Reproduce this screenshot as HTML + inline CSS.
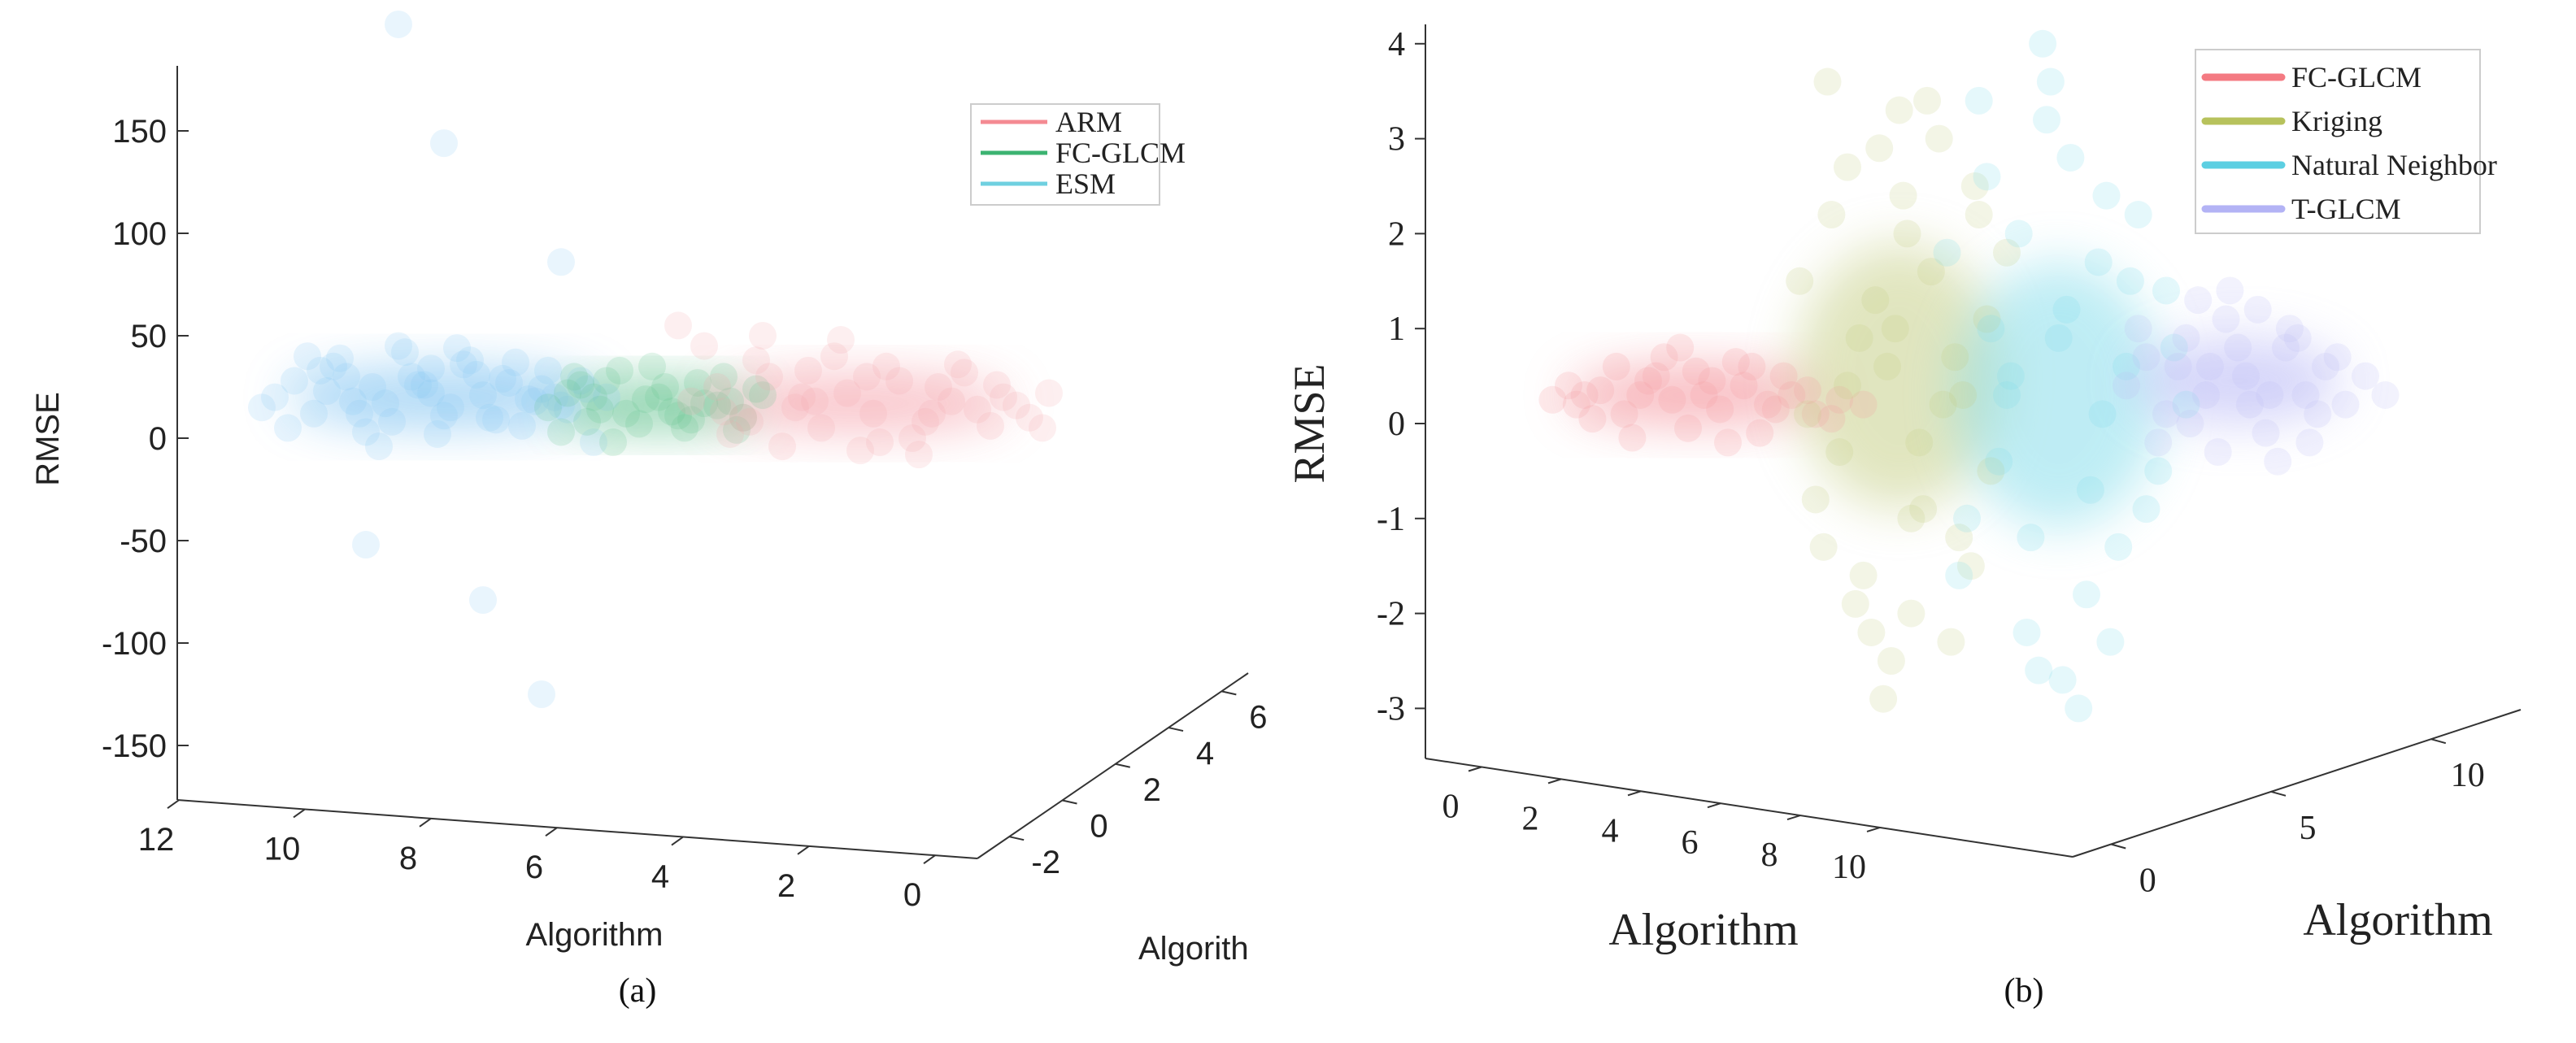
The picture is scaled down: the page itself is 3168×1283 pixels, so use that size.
<!DOCTYPE html>
<html><head><meta charset="utf-8"><style>
html,body{margin:0;padding:0;background:#fff;}
svg{display:block;}
.sans{font-family:"Liberation Sans",Arial,sans-serif;}
.serif{font-family:"Liberation Serif","Times New Roman",serif;}
</style></head><body>
<svg id="fig" width="3168" height="1283" viewBox="0 0 3168 1283" xmlns="http://www.w3.org/2000/svg">
<defs>
<filter id="blur" x="-60%" y="-60%" width="220%" height="220%"><feGaussianBlur stdDeviation="30"/></filter>
</defs>
<g id="panelA"></g>
<g id="panelB"></g>
</svg>
<script>
// ---------- Panel (a) data ----------
const aSeries = ['ESM','FC-GLCM','ARM'];
const aPointColor = ['#86c6f2','#5cc08a','#f6a5ae'];
const aCoreX = [7.8, 4.5, 1.4];
const aCoreW = [2.4, 1.5, 2.3];
const aCoreY = [20, 16, 17];
const aCoreH = [14, 11, 13];
const esmX = [10.4,10.1,9.8,9.5,9.2,8.9,8.6,8.3,8.0,7.7,7.4,7.1,6.8,6.5,6.2,5.9,5.6,5.3,10.2,9.9,9.6,9.3,9.0,8.7,8.4,8.1,7.8,7.5,7.2,6.9,6.6,6.3,6.0,5.7,9.7,9.1,8.5,7.9,7.3,6.7,6.1,10.6,8.8,8.2,7.6,7.0,9.4,8.0,6.4,5.5,8.5,7.8,6.0,9.0,7.2,6.3];
const esmY = [20,28,12,35,18,25,8,30,22,15,38,10,27,19,33,14,24,20,5,40,23,30,3,17,42,26,11,36,21,29,6,24,16,28,33,12,45,2,31,37,20,15,-4,26,44,9,39,34,18,-2,202,144,86,-52,-79,-125];
const fcaX = [6.2,5.9,5.6,5.3,5.0,4.7,4.4,4.1,3.8,3.5,3.2,2.9,6.0,5.7,5.4,5.1,4.8,4.5,4.2,3.9,3.6,3.3,3.0,5.8,5.2,4.6,4.0,3.4,5.5,4.3];
const fcaY = [15,22,8,28,12,19,25,5,17,30,10,21,3,26,14,33,7,20,11,27,16,4,24,30,-2,35,9,18,20,13];
const armX = [4.0,3.6,3.2,2.8,2.4,2.0,1.6,1.2,0.8,0.4,0.0,-0.4,-0.8,-1.2,3.8,3.4,3.0,2.6,2.2,1.8,1.4,1.0,0.6,0.2,-0.2,-0.6,-1.0,3.5,2.9,2.3,1.7,1.1,0.5,-0.1,-0.7,3.1,2.1,1.3,0.3,-1.5,4.2,-1.4];
const armY = [18,25,10,30,15,5,22,12,28,8,18,14,20,10,45,2,38,-4,33,40,-6,35,0,25,32,6,16,13,50,20,48,-2,-8,36,26,8,18,30,12,22,55,5];
const aYTicks = [150,100,50,0,-50,-100,-150];
const aXTicks = [12,10,8,6,4,2,0];
const aZTicks = [-2,0,2,4,6];

// ---------- Panel (b) data ----------
const bSeries = ['FC-GLCM','Kriging','Natural Neighbor','T-GLCM'];
const bPointColor = ['#f59aa2','#c3cc80','#7fdbea','#c0c0f7'];
const bCoreX = [6.2, 11.3, 15.3, 19.8];
const bCoreW = [3.2, 2.6, 2.6, 2.6];
const bCoreY = [0.3, 0.5, 0.3, 0.45];
const bCoreH = [0.3, 1.4, 1.4, 0.45];
const fcbX = [2.6,3.2,3.8,4.4,5.0,5.6,6.2,6.8,7.4,8.0,8.6,9.2,9.8,10.4,3.0,3.6,4.2,4.8,5.4,6.0,6.6,7.2,7.8,8.4,9.0,9.6,4.6,5.8,7.0,8.2,5.2,6.4,7.6,3.4];
const fcbY = [0.25,0.2,0.35,0.1,0.45,0.25,0.55,0.15,0.4,0.2,0.3,0.1,0.25,0.2,0.4,0.05,0.6,0.3,0.7,-0.05,0.45,0.65,-0.1,0.5,0.35,0.05,-0.15,0.8,-0.2,0.15,0.5,0.3,0.6,0.3];
const krX = [8.8,9.2,9.6,10.0,10.4,10.8,11.2,11.6,12.0,12.4,12.8,13.2,13.6,14.0,9.0,9.5,10.2,10.7,11.1,11.5,11.9,12.3,12.7,13.1,13.5,9.4,10.0,10.6,11.3,11.8,12.6,13.3,10.3,11.0,12.1,9.8,11.6,12.9,10.9,11.4];
const krY = [1.5,-0.8,2.2,0.4,-1.6,2.9,1.0,-2.0,3.4,0.2,-1.2,2.5,-0.5,1.8,0.1,3.6,-1.9,1.3,-2.5,2.0,-0.9,3.0,0.7,-1.5,1.1,-1.3,2.7,-2.2,3.3,-0.2,-2.3,2.2,0.9,0.6,1.6,-0.3,-1.0,0.3,-2.9,2.4];
const nnX = [12.5,13.0,13.5,14.0,14.5,15.0,15.5,16.0,16.5,17.0,17.5,18.0,18.5,12.8,13.3,13.8,14.3,14.8,15.3,15.8,16.3,16.8,17.3,17.8,13.6,14.6,15.6,16.6,14.1,15.1,16.1,17.1,15.4,16.4,14.9,18.2];
const nnY = [1.8,-1.0,2.6,0.3,-2.2,3.2,1.2,-1.8,2.4,0.6,-0.9,1.4,0.2,-1.6,3.4,-0.4,2.0,-2.6,0.9,-3.0,1.7,-1.3,2.2,-0.5,1.0,-1.2,2.8,-2.3,0.5,3.6,-0.7,1.5,-2.7,0.1,4.0,0.8];
const tgX = [17.0,17.5,18.0,18.5,19.0,19.5,20.0,20.5,21.0,21.5,22.0,22.5,23.0,17.3,17.8,18.3,18.8,19.3,19.8,20.3,20.8,21.3,21.8,22.3,18.6,19.6,20.6,21.6,19.1,20.1,21.1,23.5];
const tgY = [0.4,0.7,0.1,0.9,0.3,1.1,0.5,-0.1,0.8,0.3,0.6,0.2,0.5,1.0,-0.2,0.6,1.3,-0.3,0.8,1.2,-0.4,0.9,0.1,0.7,0.0,1.4,0.3,-0.2,0.6,0.2,1.0,0.3];
const bYTicks = [4,3,2,1,0,-1,-2,-3];
const bXTicks = [0,2,4,6,8,10];
const bZTicks = [0,5,10];

const NS='http://www.w3.org/2000/svg';
function mk(tag, attrs, parent){const e=document.createElementNS(NS,tag);for(const k in attrs)e.setAttribute(k,attrs[k]);parent.appendChild(e);return e;}
const A=document.getElementById('panelA'), B=document.getElementById('panelB');

const xa = p => 1170 - 80*p;
const ya = v => 539 - 2.52*v;
const xb = p => 1782 + 49*p;
const yb = v => 521 - 116.8*v;

// ---- Panel A axes ----
let l;
l=mk('line',{x1:218,y1:81,x2:218,y2:984,stroke:'#333','stroke-width':2},A);


aYTicks.forEach(v=>{
  const t=mk('line',{x1:218,y1:ya(v),x2:232,y2:ya(v),stroke:'#333','stroke-width':2},A);
  
  
  const tx=mk('text',{x:205,y:ya(v)+14,'text-anchor':'end','font-size':40,fill:'#222',class:'sans'},A);
  tx.textContent=v;
  
  
});
l=mk('line',{x1:218,y1:984,x2:1202,y2:1056,stroke:'#333','stroke-width':2},A);


aXTicks.forEach(v=>{
  const x=1150-77.5*v, y=984+(x-218)*72/984;
  const t=mk('line',{x1:x,y1:y,x2:x-14,y2:y+10,stroke:'#333','stroke-width':2},A);
  
  
  const tx=mk('text',{x:x-28,y:y+62,'text-anchor':'middle','font-size':40,fill:'#222',class:'sans'},A);
  tx.textContent=v;
  
  
});
l=mk('line',{x1:1202,y1:1056,x2:1535,y2:828,stroke:'#333','stroke-width':2},A);


aZTicks.forEach(v=>{
  const f=(v+3.2)/10.2, x=1202+333*f, y=1056-228*f;
  const t=mk('line',{x1:x,y1:y,x2:x+18,y2:y+4,stroke:'#333','stroke-width':2},A);
  
  
  const tx=mk('text',{x:x+45,y:y+45,'text-anchor':'middle','font-size':40,fill:'#222',class:'sans'},A);
  tx.textContent=v;
  
  
});

function cloud(parent, sx, sy, cx, cw, cy, ch, col, op, name){
  const e=mk('ellipse',{cx:sx(cx),cy:sy(cy),rx:Math.abs(sx(cx+cw)-sx(cx)),ry:Math.abs(sy(cy+ch)-sy(cy)),fill:col,opacity:op,filter:'url(#blur)'},parent);
  
  
}
function pts(parent, sx, sy, xs, ys, col, r, op, name){
  xs.forEach((p,i)=>{
    const c=mk('circle',{cx:sx(p),cy:sy(ys[i]),r:r,fill:col,opacity:op},parent);
    
    
  });
}
const aXs=[esmX,fcaX,armX], aYs=[esmY,fcaY,armY];
aSeries.forEach((s,i)=>cloud(A,xa,ya,aCoreX[i],aCoreW[i],aCoreY[i],aCoreH[i],aPointColor[i],0.7,'a-cloud-'+s.toLowerCase()));
aSeries.forEach((s,i)=>pts(A,xa,ya,aXs[i],aYs[i],aPointColor[i],17,0.18,'a-point-'+s.toLowerCase()));

let t;
t=mk('text',{x:0,y:0,transform:'translate(72,540) rotate(-90)','text-anchor':'middle','font-size':40,fill:'#222',class:'sans'},A);
t.textContent='RMSE';


t=mk('text',{x:731,y:1163,'text-anchor':'middle','font-size':40,fill:'#222',class:'sans'},A);
t.textContent='Algorithm';


t=mk('text',{x:1400,y:1180,'font-size':40,fill:'#222',class:'sans'},A);
t.textContent='Algorith';


t=mk('text',{x:784,y:1232,'text-anchor':'middle','font-size':42,fill:'#111',class:'serif'},A);
t.textContent='(a)';



const aLegendNames=['ARM','FC-GLCM','ESM'];
const aLegendColors=['#f48a92','#3cb371','#6fd0e0'];
let lg=mk('g',{},A);


mk('rect',{x:1194,y:128,width:232,height:124,fill:'#fff',stroke:'#ccc','stroke-width':2},lg);
aLegendNames.forEach((n,i)=>{
  const y=150+38*i;
  const g=mk('g',{},lg);
  
  
  mk('line',{x1:1206,y1:y,x2:1288,y2:y,stroke:aLegendColors[i],'stroke-width':5},g);
  const tt=mk('text',{x:1298,y:y+12,'font-size':36,fill:'#222',class:'serif'},g);
  tt.textContent=n;
});

// ---- Panel B axes ----
l=mk('line',{x1:1753,y1:30,x2:1753,y2:933,stroke:'#333','stroke-width':2},B);


bYTicks.forEach(v=>{
  const tk=mk('line',{x1:1753,y1:yb(v),x2:1740,y2:yb(v),stroke:'#333','stroke-width':2},B);
  
  
  const tx=mk('text',{x:1728,y:yb(v)+14,'text-anchor':'end','font-size':42,fill:'#222',class:'serif'},B);
  tx.textContent=v;
  
  
});
l=mk('line',{x1:1753,y1:933,x2:2549,y2:1054,stroke:'#333','stroke-width':2},B);


bXTicks.forEach(v=>{
  const x=1822+49*v, y=933+(x-1753)*121/796;
  const tk=mk('line',{x1:x,y1:y,x2:x-16,y2:y+5,stroke:'#333','stroke-width':2},B);
  
  
  const tx=mk('text',{x:x-38,y:y+62,'text-anchor':'middle','font-size':42,fill:'#222',class:'serif'},B);
  tx.textContent=v;
  
  
});
l=mk('line',{x1:2549,y1:1054,x2:3100,y2:873,stroke:'#333','stroke-width':2},B);


bZTicks.forEach(v=>{
  const f=(v+1.2)/14, x=2549+551*f, y=1054-181*f;
  const tk=mk('line',{x1:x,y1:y,x2:x+18,y2:y+5,stroke:'#333','stroke-width':2},B);
  
  
  const tx=mk('text',{x:x+45,y:y+58,'text-anchor':'middle','font-size':42,fill:'#222',class:'serif'},B);
  tx.textContent=v;
  
  
});

const bXs=[fcbX,krX,nnX,tgX], bYs=[fcbY,krY,nnY,tgY];
const bCoreOp=[0.7,0.5,0.5,0.65];
bSeries.forEach((s,i)=>cloud(B,xb,yb,bCoreX[i],bCoreW[i],bCoreY[i],bCoreH[i],bPointColor[i],bCoreOp[i],'b-cloud-'+s.toLowerCase().replace(' ','-')));
bSeries.forEach((s,i)=>pts(B,xb,yb,bXs[i],bYs[i],bPointColor[i],17,0.2,'b-point-'+s.toLowerCase().replace(' ','-')));

t=mk('text',{x:0,y:0,transform:'translate(1628,521) rotate(-90)','text-anchor':'middle','font-size':54,fill:'#222',class:'serif'},B);
t.textContent='RMSE';


t=mk('text',{x:2095,y:1162,'text-anchor':'middle','font-size':56,fill:'#222',class:'serif'},B);
t.textContent='Algorithm';


t=mk('text',{x:2949,y:1150,'text-anchor':'middle','font-size':56,fill:'#222',class:'serif'},B);
t.textContent='Algorithm';


t=mk('text',{x:2489,y:1232,'text-anchor':'middle','font-size':42,fill:'#111',class:'serif'},B);
t.textContent='(b)';



const bLegendNames=['FC-GLCM','Kriging','Natural Neighbor','T-GLCM'];
const bLegendColors=['#f47a82','#b7c25c','#5ccfe2','#b3b3f5'];
lg=mk('g',{},B);


mk('rect',{x:2700,y:61,width:350,height:226,fill:'#fff',stroke:'#ccc','stroke-width':2},lg);
bLegendNames.forEach((n,i)=>{
  const y=95+54*i;
  const g=mk('g',{},lg);
  
  
  mk('line',{x1:2712,y1:y,x2:2806,y2:y,stroke:bLegendColors[i],'stroke-width':9,'stroke-linecap':'round'},g);
  const tt=mk('text',{x:2818,y:y+12,'font-size':36,fill:'#222',class:'serif'},g);
  tt.textContent=n;
});
</script>
</body></html>
